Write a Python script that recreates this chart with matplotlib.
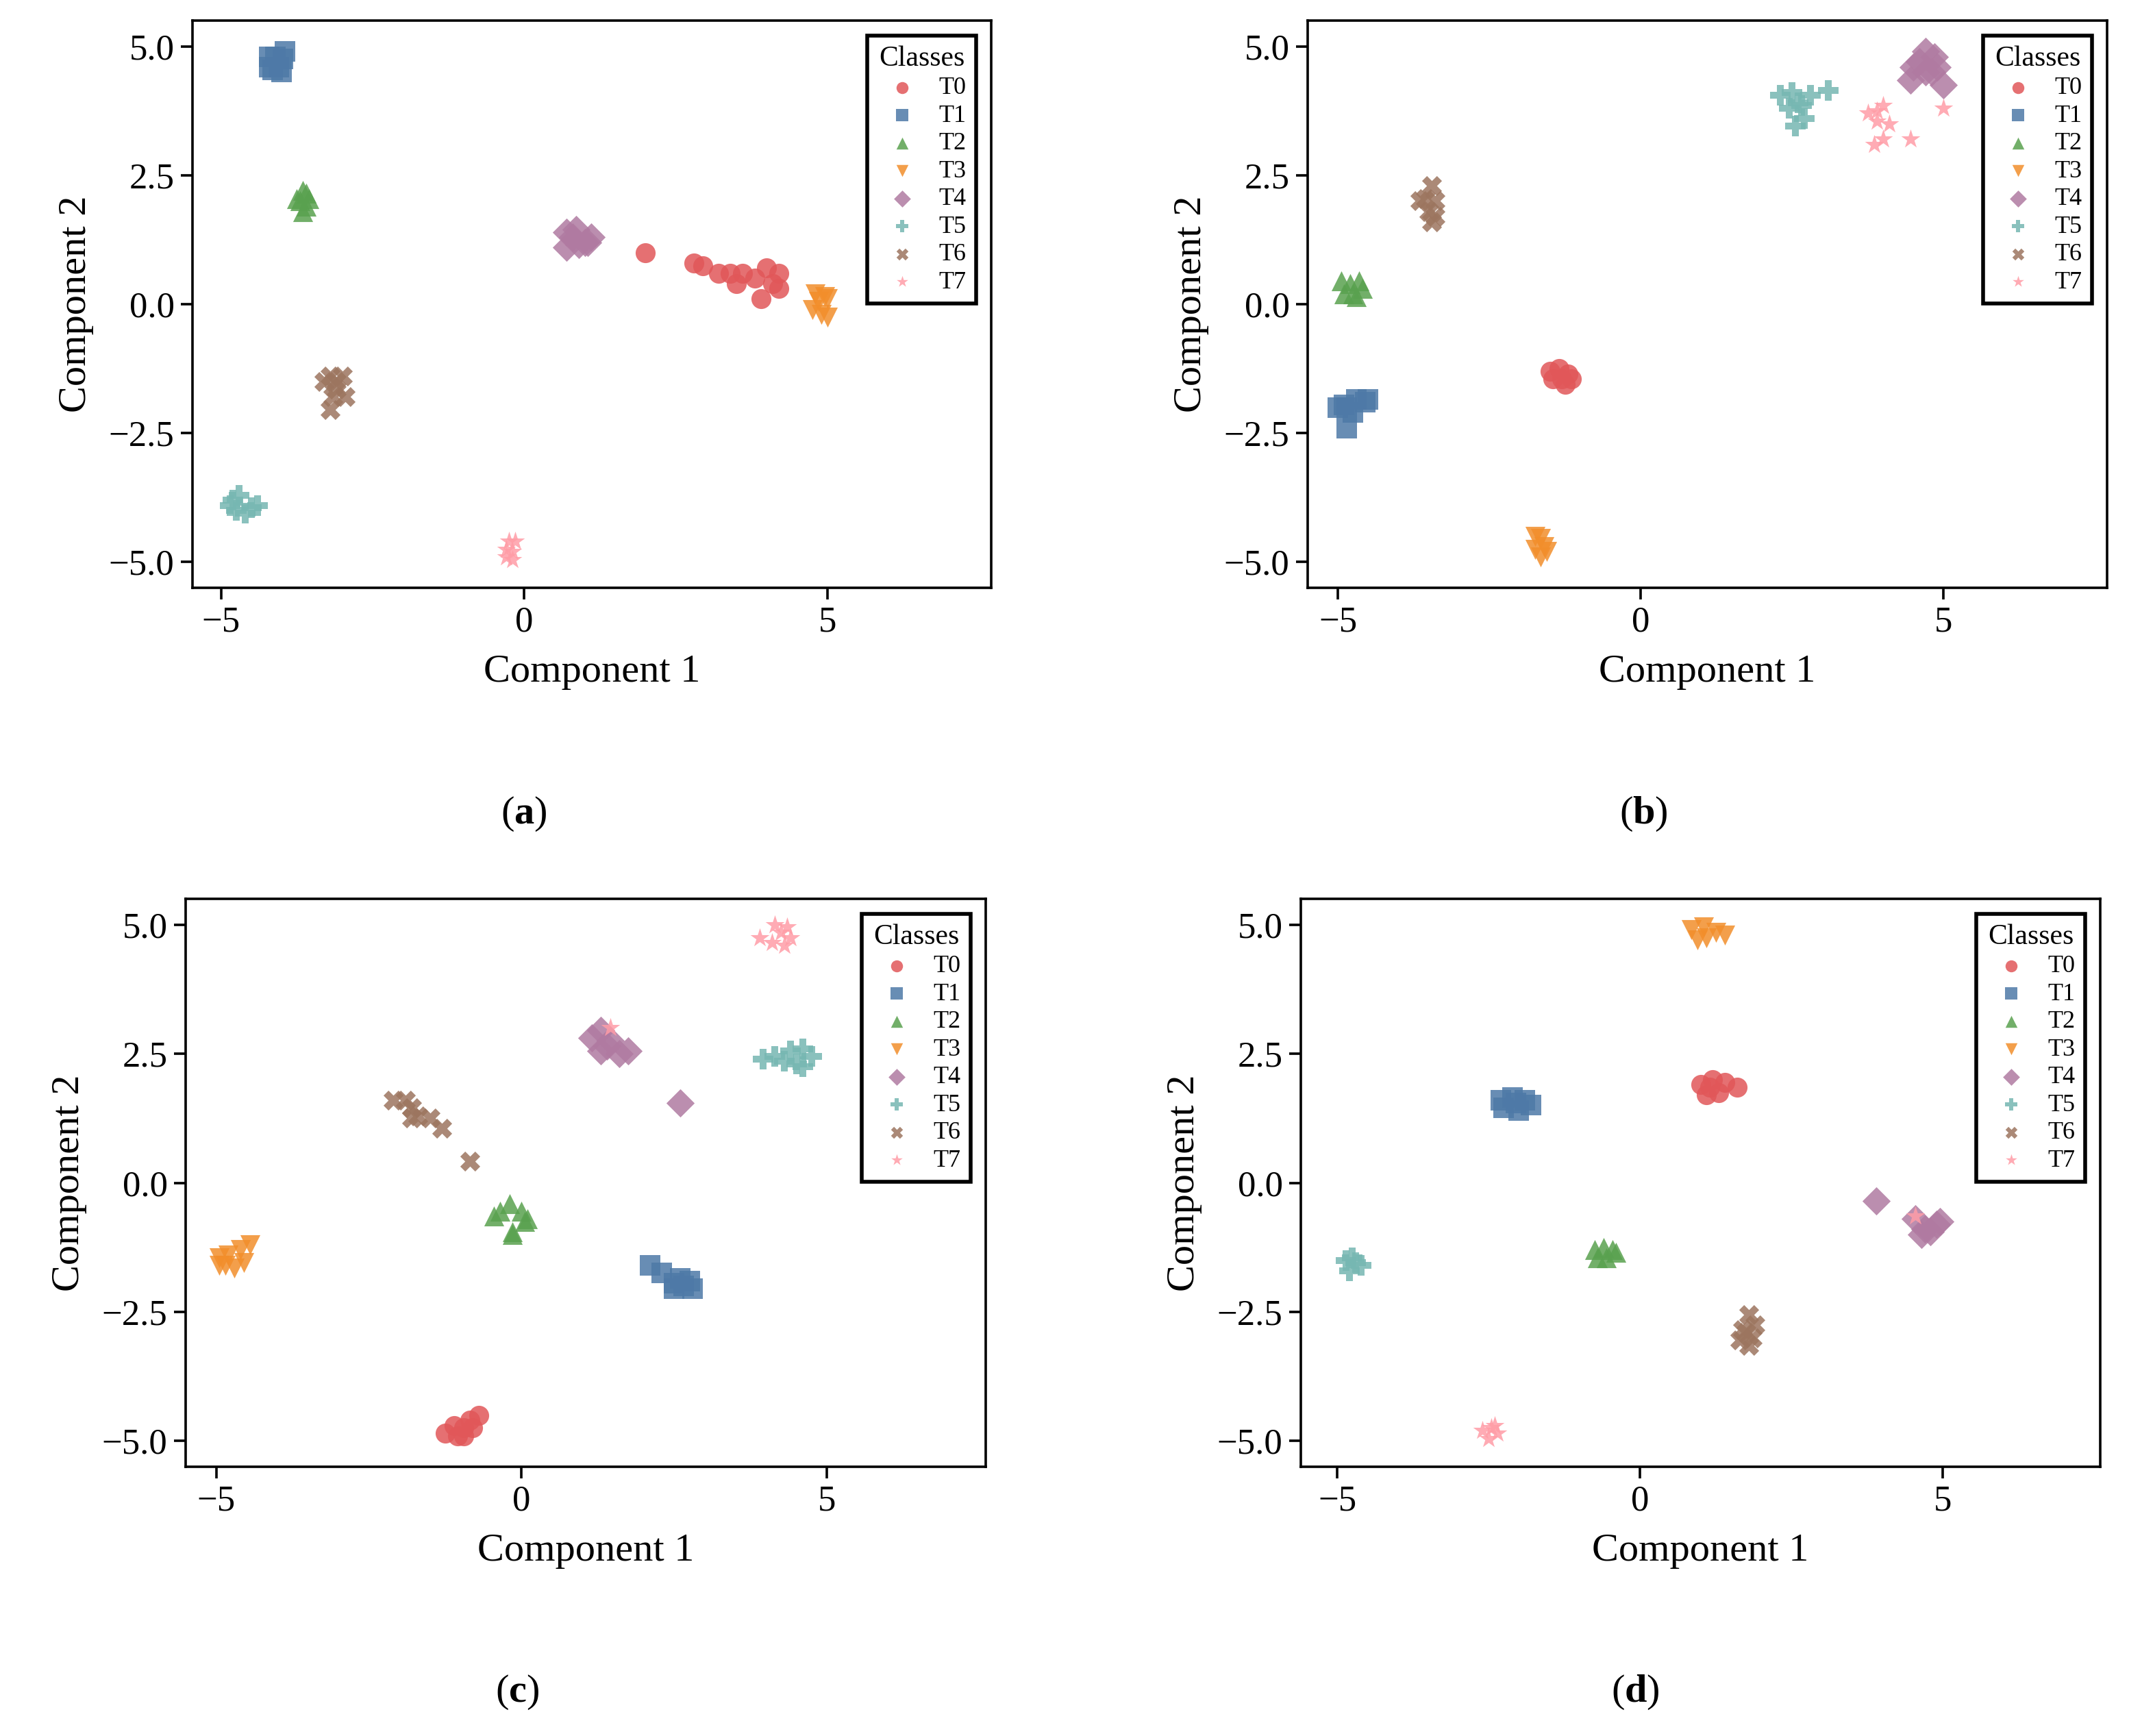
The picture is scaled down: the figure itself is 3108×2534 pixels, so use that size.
import matplotlib
matplotlib.use("Agg")
import matplotlib.pyplot as plt

plt.rcParams["font.family"] = ["Liberation Serif", "DejaVu Serif"]
plt.rcParams["mathtext.fontset"] = "custom"
plt.rcParams["mathtext.rm"] = "Liberation Serif"
plt.rcParams["mathtext.bf"] = "Liberation Serif:bold"

# ---- data -----------------------------------------------------------------
classes = ["T0", "T1", "T2", "T3", "T4", "T5", "T6", "T7"]
colors = ["#e15759", "#4e79a7", "#59a14f", "#f28e2b",
          "#b07aa1", "#76b7b2", "#9c755f", "#ff9da7"]
markers = ["o", "s", "^", "v", "D", "P", "X", "*"]

panel_a = [
    [(2.0, 1.0), (2.8, 0.8), (2.95, 0.75), (3.2, 0.6), (3.4, 0.6), (3.5, 0.4), (3.6, 0.6),
     (3.9, 0.1), (4.0, 0.7), (4.1, 0.4), (4.2, 0.6), (3.8, 0.5), (4.2, 0.3)],
    [(-4.2, 4.6), (-4.1, 4.8), (-4.0, 4.5), (-3.95, 4.9), (-4.2, 4.8), (-4.05, 4.6), (-3.98, 4.75), (-4.15, 4.55)],
    [(-3.65, 2.2), (-3.7, 2.0), (-3.6, 1.9), (-3.55, 2.05), (-3.65, 1.8), (-3.75, 2.05), (-3.6, 2.15)],
    [(4.8, 0.2), (4.95, 0.15), (5.0, 0.1), (4.75, -0.1), (4.9, -0.2), (5.0, -0.25), (4.85, 0.05)],
    [(0.7, 1.4), (0.8, 1.3), (0.7, 1.1), (0.9, 1.15), (1.0, 1.2), (1.1, 1.3), (0.85, 1.45), (1.05, 1.2)],
    [(-4.8, -3.8), (-4.7, -3.7), (-4.75, -4.0), (-4.6, -4.05), (-4.5, -3.95), (-4.4, -3.9), (-4.85, -3.9)],
    [(-3.2, -1.4), (-3.1, -1.5), (-3.3, -1.5), (-3.15, -1.8), (-2.95, -1.8), (-3.2, -2.05), (-3.0, -1.4), (-3.1, -1.65)],
    [(-0.25, -4.6), (-0.2, -4.8), (-0.3, -4.75), (-0.2, -4.95), (-0.15, -4.6), (-0.3, -4.9)],
]

panel_b = [
    [(-1.5, -1.3), (-1.35, -1.25), (-1.3, -1.45), (-1.15, -1.45), (-1.45, -1.45), (-1.25, -1.55), (-1.2, -1.35)],
    [(-5.0, -2.0), (-4.85, -2.0), (-4.7, -1.85), (-4.55, -1.9), (-4.5, -1.85), (-4.75, -2.1), (-4.85, -2.4), (-4.9, -1.95)],
    [(-4.95, 0.45), (-4.8, 0.4), (-4.65, 0.45), (-4.9, 0.2), (-4.75, 0.2), (-4.6, 0.3), (-4.7, 0.15)],
    [(-1.75, -4.5), (-1.65, -4.55), (-1.6, -4.7), (-1.75, -4.75), (-1.65, -4.9), (-1.55, -4.8)],
    [(4.7, 4.9), (4.6, 4.7), (4.85, 4.8), (4.5, 4.6), (4.45, 4.35), (4.7, 4.5), (4.9, 4.6), (5.0, 4.25), (4.8, 4.5)],
    [(2.3, 4.05), (2.5, 4.1), (2.6, 3.9), (2.8, 4.05), (2.45, 3.8), (2.7, 3.6), (2.55, 3.45), (3.1, 4.15), (2.65, 3.85)],
    [(-3.45, 2.3), (-3.55, 2.05), (-3.4, 2.0), (-3.5, 1.8), (-3.4, 1.7), (-3.65, 2.0), (-3.45, 1.6)],
    [(3.75, 3.7), (3.9, 3.75), (4.0, 3.85), (3.9, 3.55), (4.1, 3.5), (3.85, 3.1), (4.0, 3.2), (4.45, 3.2), (5.0, 3.8)],
]

panel_c = [
    [(-1.25, -4.85), (-1.1, -4.7), (-0.95, -4.75), (-0.85, -4.6), (-1.05, -4.9), (-0.8, -4.75), (-0.7, -4.5), (-0.95, -4.9)],
    [(2.1, -1.6), (2.3, -1.75), (2.5, -1.95), (2.6, -1.85), (2.75, -1.9), (2.8, -2.05), (2.5, -2.05), (2.65, -2.0)],
    [(-0.45, -0.65), (-0.35, -0.55), (-0.2, -0.4), (0.0, -0.55), (0.05, -0.75), (-0.15, -0.95), (-0.15, -1.0), (0.1, -0.7)],
    [(-4.95, -1.45), (-4.8, -1.4), (-4.6, -1.3), (-4.45, -1.2), (-4.95, -1.6), (-4.7, -1.65), (-4.55, -1.55), (-4.85, -1.6)],
    [(1.15, 2.8), (1.3, 2.95), (1.4, 2.65), (1.3, 2.55), (1.6, 2.5), (1.75, 2.55), (1.45, 2.75), (2.6, 1.55)],
    [(3.95, 2.4), (4.15, 2.45), (4.4, 2.55), (4.6, 2.6), (4.5, 2.3), (4.75, 2.45), (4.6, 2.25), (4.3, 2.35)],
    [(-2.1, 1.6), (-1.9, 1.6), (-1.8, 1.45), (-1.7, 1.3), (-1.5, 1.25), (-1.3, 1.05), (-1.8, 1.25), (-0.85, 0.42)],
    [(3.9, 4.75), (4.1, 4.65), (4.25, 4.85), (4.4, 4.75), (4.3, 4.6), (4.15, 5.0), (4.35, 4.95), (1.45, 3.0)],
]

panel_d = [
    [(1.0, 1.9), (1.2, 2.0), (1.4, 1.95), (1.6, 1.85), (1.1, 1.7), (1.3, 1.75), (1.15, 1.85)],
    [(-2.3, 1.6), (-2.1, 1.65), (-1.9, 1.6), (-2.25, 1.45), (-2.0, 1.4), (-1.8, 1.5), (-2.05, 1.55)],
    [(-0.75, -1.3), (-0.6, -1.25), (-0.45, -1.3), (-0.7, -1.45), (-0.55, -1.45), (-0.4, -1.35)],
    [(0.85, 4.9), (1.05, 4.95), (1.25, 4.85), (1.4, 4.8), (0.95, 4.7), (1.1, 4.75)],
    [(3.9, -0.35), (4.55, -0.7), (4.7, -0.9), (4.9, -0.8), (4.65, -1.0), (4.8, -0.95), (4.95, -0.75)],
    [(-4.85, -1.5), (-4.7, -1.55), (-4.8, -1.7), (-4.6, -1.6), (-4.75, -1.45)],
    [(1.8, -2.55), (1.9, -2.75), (1.75, -2.9), (1.65, -3.05), (1.8, -3.15), (1.85, -3.0), (1.7, -2.85)],
    [(-2.6, -4.8), (-2.45, -4.75), (-2.35, -4.85), (-2.5, -4.95), (-2.4, -4.7), (4.55, -0.65)],
]

panels = [panel_a, panel_b, panel_c, panel_d]
panel_names = ["a", "b", "c", "d"]

# ---- layout --------------------------------------------------------------
W, H = 3108, 2534
fig = plt.figure(figsize=(W / 200, H / 200), dpi=200)

# axes boxes in pixels: left, top, right, bottom
boxes = [(281, 30, 1447, 858), (1909, 30, 3076, 858),
         (271, 1312, 1439, 2141), (1899, 1312, 3066, 2141)]
xlims = [(-5.47, 7.7), (-5.5, 7.7), (-5.5, 7.6), (-5.6, 7.6)]
label_pos = [(0.246, 0.531), (0.772, 0.531), (0.243, 0.025), (0.768, 0.025)]

for i, data in enumerate(panels):
    l, t, r, b = boxes[i]
    ax = fig.add_axes([l / W, 1 - b / H, (r - l) / W, (b - t) / H])
    for c in range(len(classes)):
        xs = [p[0] for p in data[c]]
        ys = [p[1] for p in data[c]]
        ax.scatter(xs, ys, color=colors[c], marker=markers[c], s=110,
                   alpha=0.85, linewidths=0, label=classes[c])
    ax.set_xlim(*xlims[i])
    ax.set_ylim(-5.5, 5.5)
    ax.set_xticks([-5, 0, 5])
    ax.set_yticks([-5.0, -2.5, 0.0, 2.5, 5.0])
    ax.set_yticklabels(["\u22125.0", "\u22122.5", "0.0", "2.5", "5.0"])
    ax.set_xticklabels(["\u22125", "0", "5"])
    ax.tick_params(labelsize=19, width=1.3, length=6)
    for sp in ax.spines.values():
        sp.set_linewidth(1.3)
    ax.set_xlabel("Component 1", fontsize=21, labelpad=8)
    ax.set_ylabel("Component 2", fontsize=21, labelpad=8)
    leg = ax.legend(title="Classes", loc="upper right", fontsize=13,
                    title_fontsize=15, fancybox=False, framealpha=1,
                    edgecolor="black", handletextpad=0.5, labelspacing=0.2,
                    borderaxespad=0.6, markerscale=0.6)
    leg.get_frame().set_linewidth(2)
    fig.text(label_pos[i][0], label_pos[i][1],
             r"$(\mathbf{" + panel_names[i] + r"})$", fontsize=21,
             ha="center", va="center")

fig.savefig("out.png", dpi=200, facecolor="white")
